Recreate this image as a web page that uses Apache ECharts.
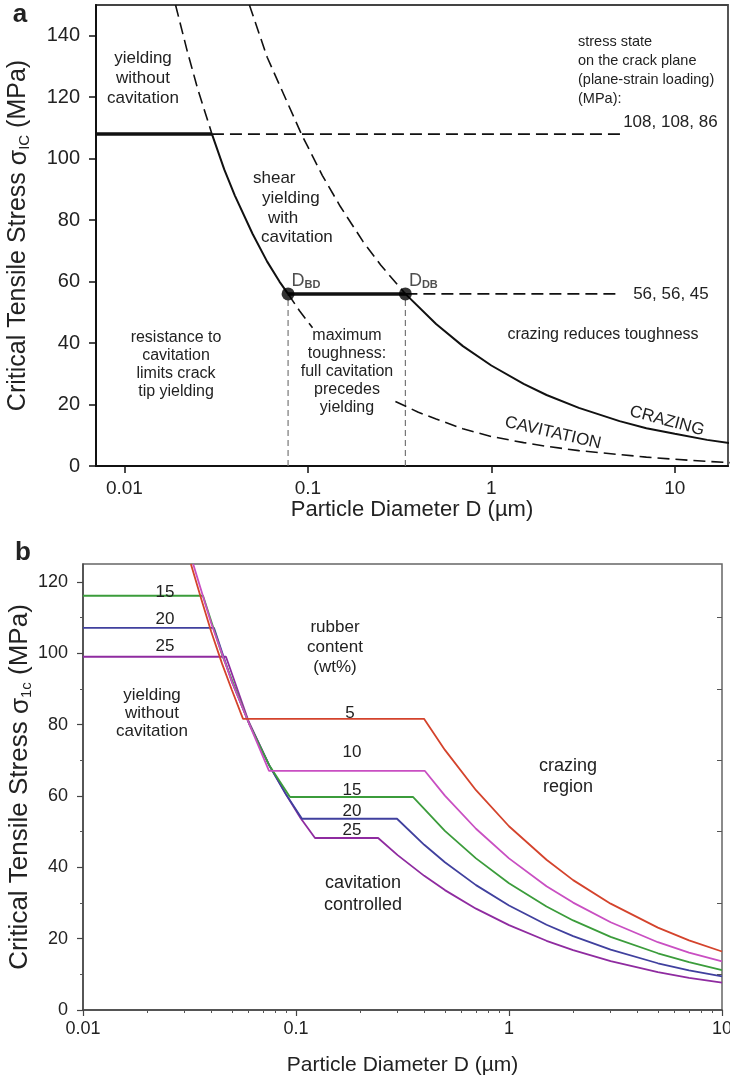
<!DOCTYPE html>
<html>
<head>
<meta charset="utf-8">
<script src="https://cdn.jsdelivr.net/npm/echarts@6/dist/echarts.min.js"></script>
<style>
  html, body { margin: 0; padding: 0; background: #fff; }
  #chart { width: 730px; height: 1080px; }
</style>
</head>
<body>
<div id="chart"></div>
<script>
// ---------- panel a: critical tensile stress vs particle diameter ----------
const xTicksA = [0.01, 0.1, 1, 10];
const xTickLabelsA = ['0.01', '0.1', '1', '10'];
const yTicksA = [0, 20, 40, 60, 80, 100, 120, 140];

// stress state on the crack plane (MPa)
const stressStates = [[108, 108, 86], [56, 56, 45]];
const dBD = 0.078;          // brittle-ductile transition diameter (µm)
const dDB = 0.34;           // ductile-brittle transition diameter (µm)
const yieldMeetsCav = 0.030;
const stateLineEnd = 5.1;

// cavitation curve (µm, MPa)
const cavUpper = [[0.019, 150], [0.022, 135], [0.025, 123], [0.030, 108]];
const cavSolid = [[0.030, 108], [0.035, 96.5], [0.04, 88], [0.05, 75.5], [0.06, 66.5], [0.07, 60], [0.078, 56]];
const cavNear = [[0.078, 56], [0.09, 50.5], [0.106, 45]];
const cavLower = [[0.30, 21], [0.4, 17.5], [0.5, 15.3], [0.7, 12.1], [1, 9.6], [1.5, 7.6], [2, 6.4],
                  [3, 5.0], [5, 3.7], [7, 2.9], [10, 2.2], [15, 1.5], [20, 1.1]];

// crazing curve (µm, MPa)
const crazeUpper = [[0.048, 150], [0.06, 133], [0.0922, 108], [0.12, 94.5], [0.15, 84.5], [0.2, 73], [0.25, 65.3], [0.34, 56]];
const crazeLower = [[0.34, 56], [0.5, 46.2], [0.7, 39], [1, 32.7], [1.5, 26.7], [2, 23.1], [3, 18.9],
                    [5, 14.6], [7, 12.3], [10, 10.5], [15, 8.5], [20, 7.4]];

// ---------- panel b: effect of rubber content (wt%) ----------
const xTicksB = [0.01, 0.1, 1, 10];
const xTickLabelsB = ['0.01', '0.1', '1', '10'];
const xMinorTicksB = [0.02, 0.03, 0.04, 0.05, 0.06, 0.07, 0.08, 0.09,
                      0.2, 0.3, 0.4, 0.5, 0.6, 0.7, 0.8, 0.9,
                      2, 3, 4, 5, 6, 7, 8, 9];
const yTicksB = [0, 20, 40, 60, 80, 100, 120];
const yMinorTicksB = [10, 30, 50, 70, 90, 110];

const rubberContents = ['5', '10', '15', '20', '25'];
const rubberColors = ['#d4432c', '#c94fc2', '#3b9c3b', '#40409e', '#8f2ba0'];
const rubber5 = [[0.0321, 125], [0.036, 115], [0.04, 106], [0.045, 97], [0.05, 89.7], [0.0564, 81.6], [0.399, 81.6],
                 [0.5, 72.9], [0.7, 61.6], [1, 51.5], [1.5, 42.1], [2, 36.4], [3, 29.8], [5, 23.1], [7, 19.5], [10, 16.4]];
const rubber10 = [[0.0329, 125], [0.04, 108.4], [0.05, 92], [0.06, 80.5], [0.0747, 67], [0.403, 67],
                  [0.5, 60.1], [0.7, 50.8], [1, 42.5], [1.5, 34.7], [2, 30.1], [3, 24.6], [5, 19], [7, 16.1], [10, 13.6]];
const rubber15 = [[0.01, 116.1], [0.0366, 116.1], [0.045, 99.5], [0.06, 80.5], [0.075, 68.5], [0.0937, 59.7], [0.354, 59.7],
                  [0.5, 50.2], [0.7, 42.5], [1, 35.5], [1.5, 29], [2, 25.1], [3, 20.5], [5, 15.9], [7, 13.4], [10, 11.2]];
const rubber20 = [[0.01, 107.1], [0.0412, 107.1], [0.05, 92], [0.06, 80.5], [0.075, 68.5], [0.09, 60.3], [0.1067, 53.6], [0.298, 53.6],
                  [0.4, 46.3], [0.5, 41.4], [0.7, 35], [1, 29.3], [1.5, 23.9], [2, 20.7], [3, 16.9], [5, 13.1], [7, 11.1], [10, 9.4]];
const rubber25 = [[0.01, 99], [0.0469, 99], [0.06, 80.8], [0.075, 68.5], [0.09, 60.3], [0.105, 53.8], [0.1228, 48.2], [0.243, 48.2],
                  [0.3, 43.4], [0.4, 37.6], [0.5, 33.6], [0.7, 28.4], [1, 23.8], [1.5, 19.4], [2, 16.8], [3, 13.7], [5, 10.6], [7, 9], [10, 7.7]];
const rubberCurves = [rubber5, rubber10, rubber15, rubber20, rubber25];

// ---------- helpers ----------
const FONT = '"Liberation Sans", Arial, sans-serif';
const INK = '#222';

function labelFor(ticks, labels) {
  return function (v) {
    for (let i = 0; i < ticks.length; i++) {
      if (Math.abs(Math.log10(v) - Math.log10(ticks[i])) < 1e-6) return labels[i];
    }
    return '';
  };
}

function curve(data, opts) {
  return Object.assign({
    type: 'line', xAxisIndex: 0, yAxisIndex: 0, data: data,
    symbol: 'none', silent: true, clip: true, z: 3,
    lineStyle: { color: '#111', width: 2 }
  }, opts);
}
const DASH = [12, 6];

function note(x, y, text, size, extra) {
  const e = Object.assign({ type: 'text', x: x, y: y, silent: true, z: 10 }, extra || {});
  e.style = Object.assign({
    text: text, font: size + 'px ' + FONT, fill: INK,
    align: 'center', verticalAlign: 'middle',
    textAlign: 'center', textVerticalAlign: 'middle',
    lineHeight: Math.round(size * 1.12)
  }, (extra && extra.style) || {});
  return e;
}

const chart = echarts.init(document.getElementById('chart'), null, { renderer: 'canvas' });

const seriesA = [
  curve([[0.007, stressStates[0][0]], [yieldMeetsCav, stressStates[0][0]]], { lineStyle: { color: '#111', width: 3.5 } }),
  curve([[yieldMeetsCav, stressStates[0][0]], [stateLineEnd, stressStates[0][0]]], {
    lineStyle: { color: '#111', width: 1.6, type: DASH },
    endLabel: { show: true, formatter: stressStates[0].join(', '), fontSize: 17, color: INK, fontFamily: FONT, offset: [0, -12], distance: 2 }
  }),
  curve([[dBD, stressStates[1][0]], [dDB, stressStates[1][0]]], { lineStyle: { color: '#111', width: 3.5 } }),
  curve([[dDB, stressStates[1][0]], [stateLineEnd, stressStates[1][0]]], {
    lineStyle: { color: '#111', width: 1.6, type: DASH },
    endLabel: { show: true, formatter: stressStates[1].join(', '), fontSize: 17, color: INK, fontFamily: FONT, offset: [10, 0], distance: 2 }
  }),
  curve(cavUpper, { lineStyle: { color: '#111', width: 1.6, type: DASH } }),
  curve(cavSolid, { lineStyle: { color: '#111', width: 2 } }),
  curve(cavNear, { lineStyle: { color: '#111', width: 1.6, type: DASH } }),
  curve(cavLower, { lineStyle: { color: '#111', width: 1.6, type: DASH } }),
  curve(crazeUpper, { lineStyle: { color: '#111', width: 1.6, type: DASH } }),
  curve(crazeLower, { lineStyle: { color: '#111', width: 2 } }),
  curve([[dBD, 0], [dBD, stressStates[1][0]]], { z: 2, lineStyle: { color: '#777', width: 1.2, type: [6, 4] } }),
  curve([[dDB, 0], [dDB, stressStates[1][0]]], { z: 2, lineStyle: { color: '#777', width: 1.2, type: [6, 4] } }),
  {
    type: 'scatter', xAxisIndex: 0, yAxisIndex: 0, silent: true, z: 5,
    symbol: 'circle', symbolSize: 13, itemStyle: { color: '#000' },
    data: [
      { value: [dBD, stressStates[1][0]], name: 'BD' },
      { value: [dDB, stressStates[1][0]], name: 'DB' }
    ],
    label: {
      show: true, position: [10, -17],
      formatter: function (p) { return '{d|D}{s|' + p.name + '}'; },
      rich: {
        d: { fontSize: 18, color: INK, fontFamily: FONT, lineHeight: 20, verticalAlign: 'bottom' },
        s: { fontSize: 11, fontWeight: 'bold', color: INK, fontFamily: FONT, lineHeight: 13, verticalAlign: 'bottom' }
      }
    }
  }
];

const seriesB = rubberCurves.map(function (d, i) {
  return {
    type: 'line', name: rubberContents[i], xAxisIndex: 1, yAxisIndex: 1, data: d,
    symbol: 'none', silent: true, clip: true, z: 3 + (4 - i) * 0.1,
    lineStyle: { color: rubberColors[i], width: 1.8 }
  };
});

const option = {
  animation: false,
  backgroundColor: '#fff',
  textStyle: { fontFamily: FONT, color: INK },
  grid: [
    { left: 96, top: 5, width: 632, height: 461, show: true, borderColor: '#444', borderWidth: 1.8,
      backgroundColor: 'transparent', containLabel: false, outerBoundsMode: 'none' },
    { left: 83, top: 564, width: 639, height: 446, show: true, borderColor: '#666', borderWidth: 1.5,
      backgroundColor: 'transparent', containLabel: false, outerBoundsMode: 'none' }
  ],
  xAxis: [
    {
      gridIndex: 0, type: 'log', logBase: 10, min: 0.007, max: 19.5, position: 'bottom',
      axisLine: { show: true, onZero: false, lineStyle: { color: '#111', width: 2 } },
      axisTick: { show: true, inside: false, length: 7, customValues: xTicksA, lineStyle: { color: '#111', width: 1.5 } },
      axisLabel: { customValues: xTicksA, formatter: labelFor(xTicksA, xTickLabelsA), fontSize: 19, color: INK, margin: 13 },
      splitLine: { show: false }, minorTick: { show: false },
      name: 'Particle Diameter D (µm)', nameLocation: 'middle', nameGap: 33, nameMoveOverlap: false,
      nameTextStyle: { fontSize: 22, color: INK, fontFamily: FONT }
    },
    {
      gridIndex: 1, type: 'log', logBase: 10, min: 0.01, max: 10, position: 'bottom',
      axisLine: { show: true, onZero: false, lineStyle: { color: '#444', width: 1.5 } },
      axisTick: { show: true, inside: false, length: 6, customValues: xTicksB, lineStyle: { color: '#444', width: 1.2 } },
      axisLabel: { customValues: xTicksB, formatter: labelFor(xTicksB, xTickLabelsB), fontSize: 18, color: INK, margin: 10 },
      splitLine: { show: false },
      name: 'Particle Diameter D (µm)', nameLocation: 'middle', nameGap: 45, nameMoveOverlap: false,
      nameTextStyle: { fontSize: 21, color: INK, fontFamily: FONT }
    },
    {
      gridIndex: 1, type: 'log', logBase: 10, min: 0.01, max: 10, position: 'bottom',
      axisLine: { show: false },
      axisTick: { show: true, inside: false, length: 3, customValues: xMinorTicksB, lineStyle: { color: '#555', width: 1 } },
      axisLabel: { show: false }, splitLine: { show: false }
    }
  ],
  yAxis: [
    {
      gridIndex: 0, type: 'value', min: 0, max: 150, interval: 20, position: 'left',
      axisLine: { show: true, lineStyle: { color: '#111', width: 2 } },
      axisTick: { show: true, inside: false, length: 7, customValues: yTicksA, lineStyle: { color: '#111', width: 1.5 } },
      axisLabel: { customValues: yTicksA, fontSize: 20, color: INK, margin: 16 },
      splitLine: { show: false },
      name: 'Critical Tensile Stress {g|σ}{s|IC} (MPa)', nameLocation: 'middle', nameGap: 64, nameRotate: 90,
      nameMoveOverlap: false,
      nameTextStyle: {
        fontSize: 25, color: INK, fontFamily: FONT,
        rich: {
          g: { fontSize: 25, color: INK, fontFamily: FONT, verticalAlign: 'bottom', lineHeight: 28 },
          s: { fontSize: 15, color: INK, fontFamily: FONT, verticalAlign: 'bottom', lineHeight: 21 }
        }
      }
    },
    {
      gridIndex: 1, type: 'value', min: 0, max: 125, interval: 20, position: 'left',
      axisLine: { show: true, lineStyle: { color: '#444', width: 1.5 } },
      axisTick: { show: true, inside: false, length: 6, customValues: yTicksB, lineStyle: { color: '#444', width: 1.2 } },
      axisLabel: { customValues: yTicksB, fontSize: 18, color: INK, margin: 15 },
      splitLine: { show: false },
      name: 'Critical Tensile Stress {g|σ}{s|1c} (MPa)', nameLocation: 'middle', nameGap: 49, nameRotate: 90,
      nameMoveOverlap: false,
      nameTextStyle: {
        fontSize: 26, color: INK, fontFamily: FONT,
        rich: {
          g: { fontSize: 26, color: INK, fontFamily: FONT, verticalAlign: 'bottom', lineHeight: 29 },
          s: { fontSize: 15, color: INK, fontFamily: FONT, verticalAlign: 'bottom', lineHeight: 21 }
        }
      }
    },
    {
      gridIndex: 1, type: 'value', min: 0, max: 125, position: 'left',
      axisLine: { show: false },
      axisTick: { show: true, inside: false, length: 3, customValues: yMinorTicksB, lineStyle: { color: '#555', width: 1 } },
      axisLabel: { show: false }, splitLine: { show: false }
    },
    {
      gridIndex: 1, type: 'value', min: 0, max: 125, position: 'right',
      axisLine: { show: false },
      axisTick: { show: true, inside: true, length: 5, customValues: yMinorTicksB, lineStyle: { color: '#555', width: 1 } },
      axisLabel: { show: false }, splitLine: { show: false }
    }
  ],
  series: seriesA.concat(seriesB),
  graphic: [
    // panel letters
    note(20, 15, 'a', 25, { style: { font: 'bold 26px ' + FONT } }),
    note(23, 553, 'b', 25, { style: { font: 'bold 26px ' + FONT } }),

    // panel a regions
    note(143, 78, 'yielding\nwithout\ncavitation', 17, { style: { lineHeight: 20 } }),
    note(253, 178, 'shear', 17, { style: { align: 'left', textAlign: 'left' } }),
    note(262, 198, 'yielding', 17, { style: { align: 'left', textAlign: 'left' } }),
    note(268, 218, 'with', 17, { style: { align: 'left', textAlign: 'left' } }),
    note(261, 237, 'cavitation', 17, { style: { align: 'left', textAlign: 'left' } }),
    note(578, 70, 'stress state\non the crack plane\n(plane-strain loading)\n(MPa):', 14.5,
         { style: { align: 'left', textAlign: 'left', lineHeight: 19 } }),
    note(176, 365, 'resistance to\ncavitation\nlimits crack\ntip yielding', 16, { style: { lineHeight: 18 } }),
    note(347, 372, 'maximum\ntoughness:\nfull cavitation\nprecedes\nyielding', 16, { style: { lineHeight: 18 } }),
    note(603, 335, 'crazing reduces toughness', 16),
    note(667, 421, 'CRAZING', 17, { rotation: -15 * Math.PI / 180 }),
    note(553, 433, 'CAVITATION', 17, { rotation: -13 * Math.PI / 180 }),

    // panel b regions and rubber content labels
    note(165, 592, rubberContents[2], 17),
    note(165, 619, rubberContents[3], 17),
    note(165, 646, rubberContents[4], 17),
    note(152, 713, 'yielding\nwithout\ncavitation', 17, { style: { lineHeight: 18 } }),
    note(335, 647, 'rubber\ncontent\n(wt%)', 17, { style: { lineHeight: 20 } }),
    note(350, 713, rubberContents[0], 17),
    note(352, 752, rubberContents[1], 17),
    note(352, 790, rubberContents[2], 17),
    note(352, 811, rubberContents[3], 17),
    note(352, 830, rubberContents[4], 17),
    note(568, 777, 'crazing\nregion', 18, { style: { lineHeight: 21 } }),
    note(363, 894, 'cavitation\ncontrolled', 18, { style: { lineHeight: 22 } })
  ]
};

chart.setOption(option);
</script>
</body>
</html>
